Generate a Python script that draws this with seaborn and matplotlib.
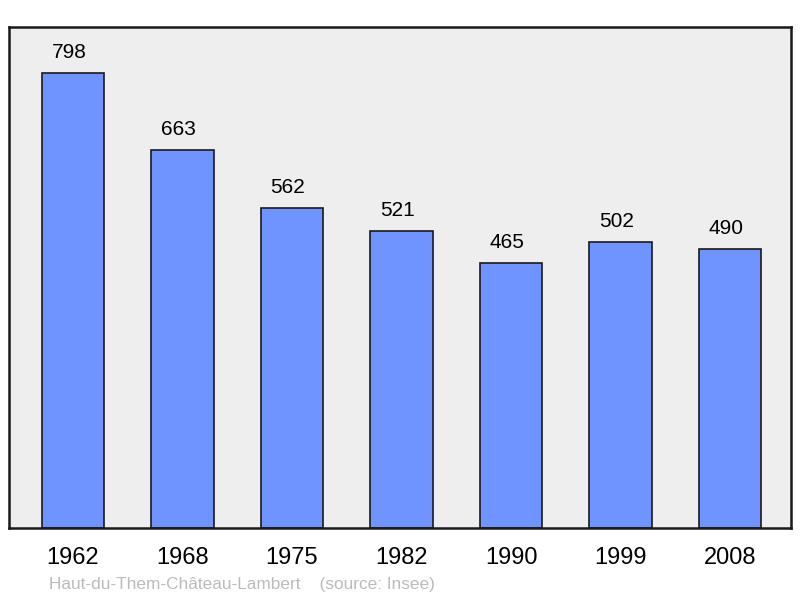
import matplotlib
matplotlib.use("Agg")
import matplotlib.pyplot as plt
import seaborn as sns
import pandas as pd

years = ["1962", "1968", "1975", "1982", "1990", "1999", "2008"]
population = [798, 663, 562, 521, 465, 502, 490]

sns.set_theme(style="white")
plt.rcParams['font.family'] = ['Liberation Sans', 'DejaVu Sans']

df = pd.DataFrame({"year": years, "pop": population})

fig = plt.figure(figsize=(8, 5.98), dpi=100)
ax = fig.add_axes([9/800, 70/598, 782/800, 501/598])
ax.set_facecolor("#EEEEEE")

sns.barplot(data=df, x="year", y="pop", color="#7094FF", saturation=1,
            width=0.57, edgecolor="#1a1a1a", linewidth=1.2, ax=ax)

for i, v in enumerate(population):
    ax.annotate(str(v), (i, v), xytext=(-3, 8), textcoords="offset points",
                ha="center", va="bottom", fontsize=15, color="#000000")

ax.set_xlim(-0.585, 6.557)
ax.set_ylim(0, 879)
ax.set_yticks([])
ax.set_xlabel("")
ax.set_ylabel("")
ax.tick_params(axis="x", length=0, pad=13.5, labelsize=17, colors="#000000")
for s in ax.spines.values():
    s.set_visible(True)
    s.set_color("#1a1a1a")
    s.set_linewidth(1.8)

fig.text(49/800, 1 - 585/598, "Haut-du-Them-Château-Lambert    (source: Insee)",
         fontsize=12.4, color="#BBBBBB", ha="left", va="center")

fig.savefig("out.png", dpi=100)
